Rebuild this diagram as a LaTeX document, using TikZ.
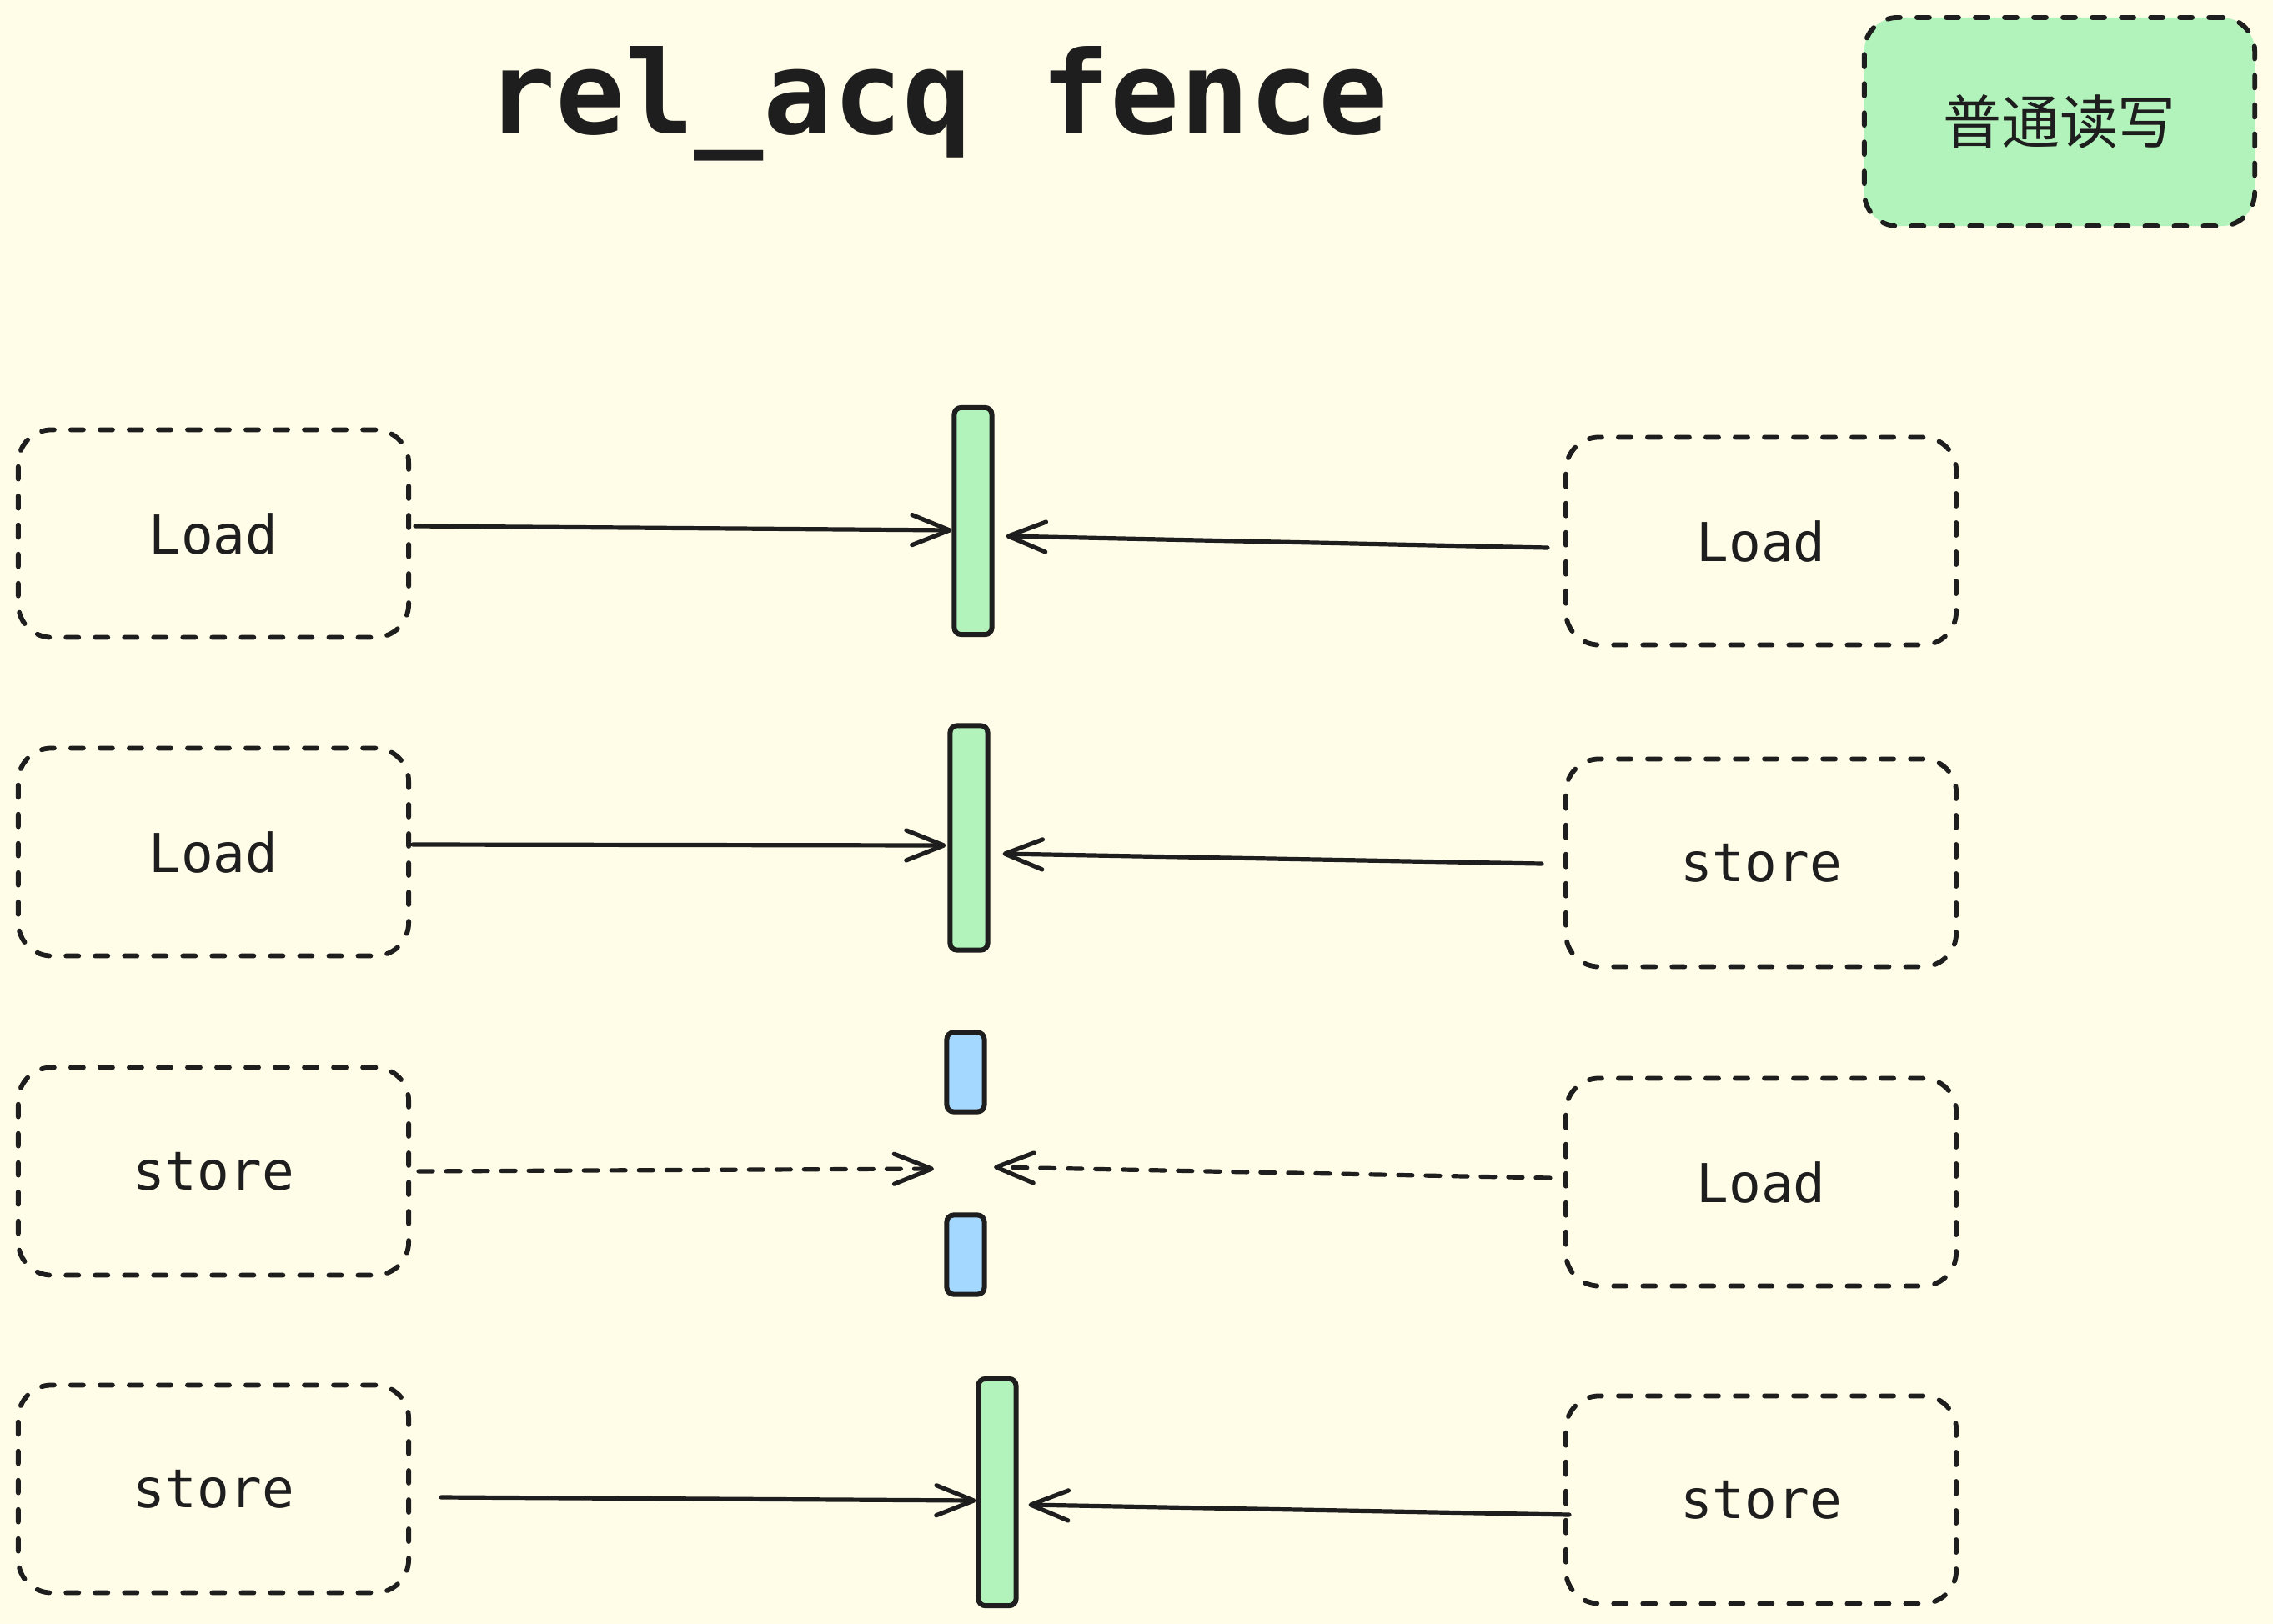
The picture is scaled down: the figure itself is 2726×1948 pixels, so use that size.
\documentclass[tikz,border=0pt]{standalone}
\usepackage{fontspec}
\setmonofont{DejaVu Sans Mono}
\newfontfamily\cjk{Noto Sans CJK SC}
\usetikzlibrary{arrows.meta,calc}
\definecolor{bg}{HTML}{FFFCE8}
\definecolor{ink}{HTML}{1E1E1E}
\definecolor{fgreen}{HTML}{B2F2BB}
\definecolor{fblue}{HTML}{A5D8FF}
\tikzset{
  opbox/.style={draw=ink, line width=0.058cm, dash pattern=on 0.15cm off 0.2cm, line cap=round,
    rounded corners=0.4cm, minimum width=4.68cm, minimum height=2.49cm, inner sep=0pt,
    font=\ttfamily\fontsize{18.3}{20}\selectfont, text=ink},
  legendbox/.style={opbox, fill=fgreen, minimum width=4.68cm, minimum height=2.5cm,
    font=\cjk\fontsize{19.9}{22}\selectfont},
  fencebar/.style={draw=ink, line width=0.06cm, rounded corners=0.08cm, fill=fgreen,
    minimum width=0.45cm, inner sep=0pt},
  halfbar/.style={fencebar, fill=fblue, minimum height=0.95cm},
  conn/.style={draw=ink, line width=0.052cm, line cap=round,
    -{Straight Barb[length=0.45cm,width=0.36cm,round]}},
  dconn/.style={conn, dash pattern=on 0.17cm off 0.16cm},
}
\begin{document}
\begin{tikzpicture}[x=0.01cm,y=0.01cm]
\fill[bg] (0,0) rectangle (2726,-1948);
\useasboundingbox (0,0) rectangle (2726,-1948);

\node[anchor=base, font=\ttfamily\bfseries\fontsize{39.3}{44}\selectfont, text=ink] (title) at (1124,-160) {rel\_acq fence};
\node[legendbox] (legend) at (2470,-146) {普通读写};

% left boxes
\node[opbox] (L1) at (256,-640) {Load};
\node[opbox] (L2) at (256,-1022) {Load};
\node[opbox] (L3) at (256,-1405) {store};
\node[opbox] (L4) at (256,-1786) {store};
% right boxes
\node[opbox] (R1) at (2112,-649) {Load};
\node[opbox] (R2) at (2112,-1035) {store};
\node[opbox] (R3) at (2112,-1418) {Load};
\node[opbox] (R4) at (2112,-1799) {store};

% fences
\node[fencebar, minimum height=2.72cm] (B1) at (1167,-625) {};
\node[fencebar, minimum height=2.69cm] (B2) at (1162,-1005) {};
\node[halfbar] (BT) at (1158,-1286) {};
\node[halfbar] (BB) at (1158,-1505) {};
\node[fencebar, minimum height=2.72cm] (B4) at (1196,-1790) {};
\coordinate (GL) at (1120,-1402);
\coordinate (GR) at (1192,-1400);

% connectors
\draw[conn] ($(L1.east)+(5,9)$) -- ($(B1.west)+(0,-11)$);
\draw[conn] ($(R1.west)+(-19,-8)$) -- ($(B1.east)+(14,-18)$);
\draw[conn] ($(L2.east)+(2,9)$) -- ($(B2.west)+(-2,-9)$);
\draw[conn] ($(R2.west)+(-26,-1)$) -- ($(B2.east)+(15,-19)$);
\draw[dconn] ($(L3.east)+(9,0)$) -- (GL);
\draw[dconn] ($(R3.west)+(-16,5)$) -- (GR);
\draw[conn] ($(L4.east)+(36,-10)$) -- ($(B4.west)+(0,-10)$);
\draw[conn] ($(R4.west)+(7,-18)$) -- ($(B4.east)+(12,-15)$);
\end{tikzpicture}
\end{document}
